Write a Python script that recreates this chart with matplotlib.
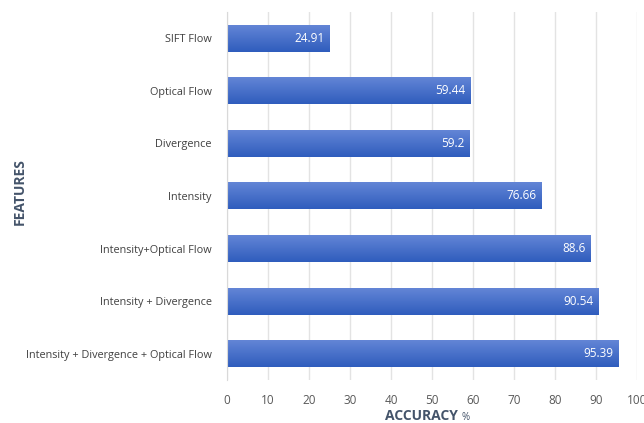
import matplotlib
matplotlib.use("Agg")
import matplotlib.pyplot as plt
import numpy as np
from matplotlib.colors import LinearSegmentedColormap

features = ["SIFT Flow", "Optical Flow", "Divergence", "Intensity",
            "Intensity+Optical Flow", "Intensity + Divergence",
            "Intensity + Divergence + Optical Flow"]
accuracy = [24.91, 59.44, 59.2, 76.66, 88.6, 90.54, 95.39]
xticks = [0, 10, 20, 30, 40, 50, 60, 70, 80, 90, 100]

plt.rcParams['font.family'] = ['Open Sans', 'DejaVu Sans']

fig = plt.figure(figsize=(6.44, 4.23), dpi=100)
ax = fig.add_axes([0.3525, 0.1017, 0.6365, 0.87])

cmap = LinearSegmentedColormap.from_list("bar", ["#6385d6", "#2f5dbd"])
grad = np.linspace(0, 1, 64).reshape(-1, 1)
h = 0.51
for i, v in enumerate(accuracy):
    # gradient fill, lighter at the top
    ax.imshow(grad, cmap=cmap, aspect='auto', origin='upper',
              extent=[0, v, i + h / 2, i - h / 2], zorder=2)
    ax.text(v - 1.2, i, f"{v:g}", color='white', ha='right', va='center',
            fontsize=8.5, zorder=3)

ax.set_xlim(0, 100)
ax.set_ylim(6.5, -0.5)
ax.set_yticks(range(len(features)))
ax.set_yticklabels(features, fontsize=7.8, color='#404040')
ax.set_xticks(xticks)
ax.set_xticklabels([str(t) for t in xticks], fontsize=8.5, color='#595959')
ax.tick_params(axis='y', length=0, pad=11)
ax.tick_params(axis='x', length=0, pad=10)
ax.grid(axis='x', color='#e3e3e3', linewidth=1, zorder=0)
ax.set_axisbelow(True)
for s in ['top', 'right', 'bottom']:
    ax.spines[s].set_visible(False)
ax.spines['left'].set_color('#d9d9d9')

fig.text(0.711, 0.007, "ACCURACY", fontsize=10, fontweight='bold',
         color='#44546a', ha='right', va='baseline')
fig.text(0.716, 0.007, "%", fontsize=7, color='#44546a', ha='left',
         va='baseline')
fig.text(0.031, 0.546, "FEATURES", rotation=90, fontsize=10, fontweight='bold',
         color='#44546a', ha='center', va='center')

fig.savefig("out.png", dpi=100)
